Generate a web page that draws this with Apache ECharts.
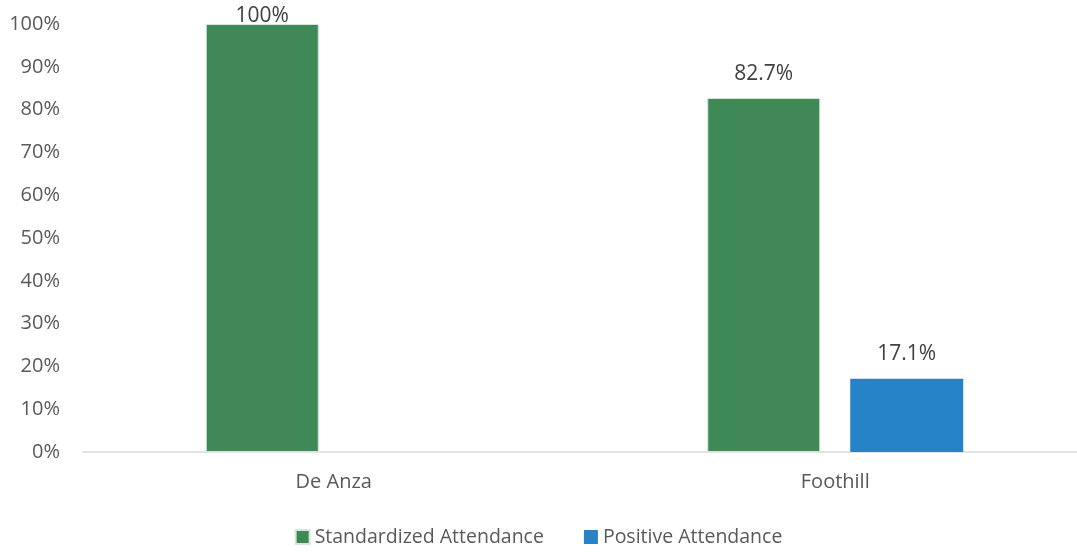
<!DOCTYPE html>
<html>
<head>
<meta charset="utf-8">
<script src="https://cdn.jsdelivr.net/npm/echarts@6/dist/echarts.min.js"></script>
<style>html,body{margin:0;padding:0;background:#fff}#c{width:1077px;height:554px}</style>
</head>
<body>
<div id="c"></div>
<script>
var categories = ['De Anza', 'Foothill'];
var seriesNames = ['Standardized Attendance', 'Positive Attendance'];
var standardized = [100, 82.7];
var positive = [0, 17.1];
var yTicks = [0, 10, 20, 30, 40, 50, 60, 70, 80, 90, 100];

var FONT = '"Open Sans", sans-serif';
var chart = echarts.init(document.getElementById('c'));

function items(arr) {
  return arr.map(function (v) {
    if (v === 0) return { value: v, label: { show: false } };
    if (v >= 100) return { value: v, label: { distance: -3 } };
    return v;
  });
}

chart.setOption({
  animation: false,
  textStyle: { fontFamily: FONT },
  grid: { left: 83, top: 24, right: -9, bottom: 102, containLabel: false, outerBoundsMode: 'none' },
  legend: {
    bottom: 2,
    left: 'center',
    itemWidth: 14,
    itemHeight: 14,
    itemGap: 40,
    icon: 'rect',
    textStyle: { fontSize: 19.5, color: '#595959', fontFamily: FONT },
    data: seriesNames
  },
  xAxis: {
    type: 'category',
    data: categories,
    axisLine: { lineStyle: { color: '#d9d9d9', width: 1.5 } },
    axisTick: { show: false },
    axisLabel: { fontSize: 20, color: '#595959', margin: 20, fontFamily: FONT }
  },
  yAxis: {
    type: 'value',
    min: yTicks[0],
    max: yTicks[yTicks.length - 1],
    interval: 10,
    splitLine: { show: false },
    axisLine: { show: false },
    axisTick: { show: false },
    axisLabel: { fontSize: 20, color: '#595959', margin: 23, fontFamily: FONT, formatter: '{value}%' }
  },
  series: [
    {
      name: seriesNames[0],
      type: 'bar',
      barWidth: 113,
      barGap: '26.5%',
      data: items(standardized),
      itemStyle: { color: '#3e8956', borderColor: '#d5e6da', borderWidth: 1 },
      label: { show: true, position: 'top', distance: 14, fontSize: 21, color: '#404040', fontFamily: FONT, formatter: function (p) { return p.value + '%'; } }
    },
    {
      name: seriesNames[1],
      type: 'bar',
      barWidth: 113,
      data: items(positive),
      itemStyle: { color: '#2783c7' },
      label: { show: true, position: 'top', distance: 14, fontSize: 21, color: '#404040', fontFamily: FONT, formatter: function (p) { return p.value + '%'; } }
    }
  ]
});
</script>
</body>
</html>
